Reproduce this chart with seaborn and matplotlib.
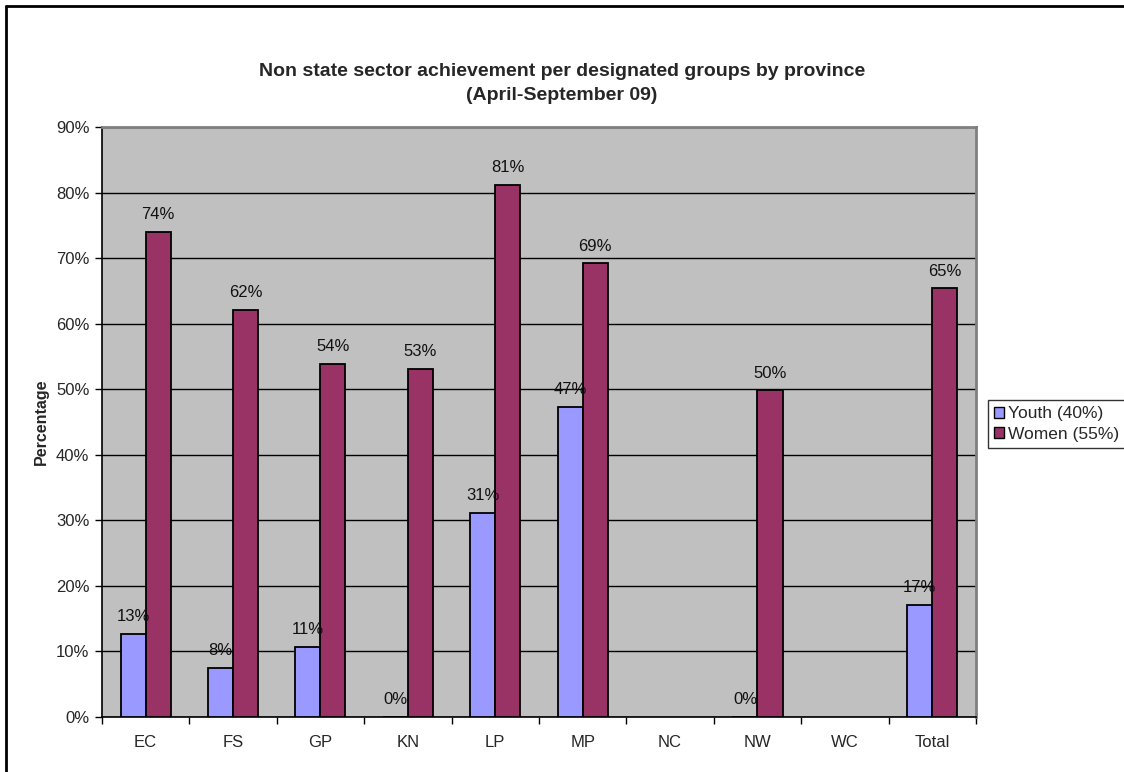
import numpy as np
import pandas as pd
import matplotlib
matplotlib.use("Agg")
import matplotlib.pyplot as plt
from matplotlib.lines import Line2D
from matplotlib.ticker import MultipleLocator, FixedLocator, FuncFormatter
import seaborn as sns

# Achievement per designated group (percent); NaN = no data reported
provinces = ["EC", "FS", "GP", "KN", "LP", "MP", "NC", "NW", "WC", "Total"]
youth = [12.6, 7.5, 10.7, 0.0, 31.1, 47.3, np.nan, 0.0, np.nan, 17.1]
women = [74.0, 62.1, 53.9, 53.1, 81.2, 69.2, np.nan, 49.8, np.nan, 65.4]
series_names = ["Youth (40%)", "Women (55%)"]
series_colors = ["#9999FF", "#993366"]

df = pd.DataFrame({
    "Province": provinces * 2,
    "Group": [series_names[0]] * len(provinces) + [series_names[1]] * len(provinces),
    "Value": youth + women,
})

sns.set_style("white")
plt.rcParams["font.family"] = ["Liberation Sans", "DejaVu Sans"]

fig = plt.figure(figsize=(11.24, 7.72), dpi=100)
ax = fig.add_axes([0.0907, 0.0716, 0.7776, 0.7638])
ax.set_facecolor("#C0C0C0")

sns.barplot(
    data=df, x="Province", y="Value", hue="Group", order=provinces,
    hue_order=series_names, palette=series_colors, width=0.573,
    edgecolor="black", linewidth=1.3, saturation=1, errorbar=None,
    legend=False, ax=ax, zorder=3,
)

# Value labels above each bar
for cont in ax.containers:
    ax.bar_label(cont, fmt="%.0f%%", padding=7, fontsize=12, color="#111111")

# Axes and grid
ax.set_ylim(0, 90)
ax.set_xlim(-0.5, len(provinces) - 0.5)
ax.yaxis.set_major_locator(MultipleLocator(10))
ax.yaxis.set_major_formatter(FuncFormatter(lambda v, p: f"{v:.0f}%"))
ax.grid(axis="y", color="black", linewidth=1.0, zorder=1)
ax.set_axisbelow(True)
ax.set_xlabel("")
ax.set_ylabel("Percentage", fontsize=11.5, fontweight="bold", labelpad=5)

ax.tick_params(axis="y", which="major", direction="out", length=5, width=1,
               color="black", labelsize=12, pad=4, left=True)
ax.tick_params(axis="x", which="major", length=0, labelsize=12, pad=13)
ax.xaxis.set_minor_locator(FixedLocator(np.arange(-0.5, len(provinces), 1.0)))
ax.tick_params(axis="x", which="minor", direction="out", length=5, width=1,
               color="black", bottom=True)

for side in ["left", "bottom"]:
    ax.spines[side].set_color("black")
    ax.spines[side].set_linewidth(1.2)
for side in ["top", "right"]:
    ax.spines[side].set_visible(True)
    ax.spines[side].set_color("#808080")
    ax.spines[side].set_linewidth(2)

# Title
fig.text(0.5, 1 - 72 / 772, "Non state sector achievement per designated groups by province",
         ha="center", va="center", fontsize=14, fontweight="bold")
fig.text(0.5, 1 - 96 / 772, "(April-September 09)",
         ha="center", va="center", fontsize=14, fontweight="bold")

# Legend
handles = [plt.Rectangle((0, 0), 1, 1, facecolor=c, edgecolor="black", linewidth=1)
           for c in series_colors]
leg = fig.legend(handles, series_names, loc="center left",
                 bbox_to_anchor=(988 / 1124, 1 - 424 / 772), bbox_transform=fig.transFigure,
                 fontsize=12.5, frameon=True, fancybox=False, handlelength=0.6,
                 handleheight=0.6, handletextpad=0.2, borderpad=0.35, labelspacing=0.3,
                 borderaxespad=0)
leg.get_frame().set_edgecolor("black")
leg.get_frame().set_linewidth(1)

# Chart area border (left and top edges)
fig.add_artist(Line2D([6.5 / 1124, 6.5 / 1124], [0, 1 - 5.5 / 772],
                      transform=fig.transFigure, color="black", linewidth=2))
fig.add_artist(Line2D([6.5 / 1124, 1], [1 - 5.5 / 772, 1 - 5.5 / 772],
                      transform=fig.transFigure, color="black", linewidth=2))

fig.savefig("out.png", dpi=100, facecolor="white")
